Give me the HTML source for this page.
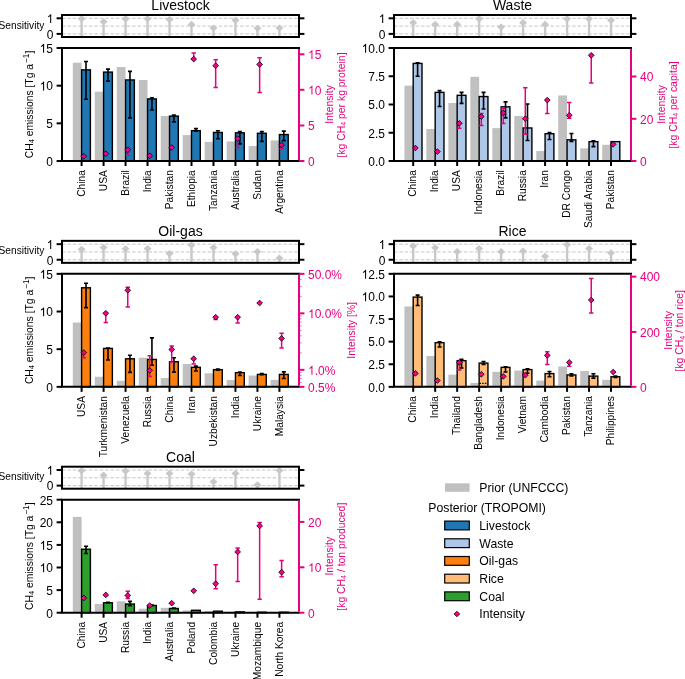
<!DOCTYPE html>
<html><head><meta charset="utf-8"><style>
html,body{margin:0;padding:0;background:#fff;}
svg{display:block;will-change:transform;}
text{font-family:"Liberation Sans",sans-serif;}
</style></head><body>
<svg width="685" height="679" viewBox="0 0 685 679">
<rect width="685" height="679" fill="#fff"/>
<text x="0" y="0" font-size="14" text-anchor="middle" fill="#000" transform="translate(180.5 10.2) scale(1 1.04)">Livestock</text>
<line x1="61.9" y1="18.3" x2="298" y2="18.3" stroke="#c6c6c6" stroke-width="1" stroke-dasharray="3.6 1.8"/>
<line x1="61.9" y1="26.1" x2="298" y2="26.1" stroke="#c6c6c6" stroke-width="1" stroke-dasharray="3.6 1.8"/>
<line x1="61.9" y1="33.9" x2="298" y2="33.9" stroke="#c6c6c6" stroke-width="1" stroke-dasharray="3.6 1.8"/>
<line x1="81.6" y1="37" x2="81.6" y2="18.8" stroke="#c8c8c8" stroke-width="2.4"/>
<path d="M81.6 15.2L85.6 18.8L81.6 22.4L77.6 18.8Z" fill="#c8c8c8"/>
<line x1="103.58" y1="37" x2="103.58" y2="21.76" stroke="#c8c8c8" stroke-width="2.4"/>
<path d="M103.58 18.16L107.58 21.76L103.58 25.36L99.58 21.76Z" fill="#c8c8c8"/>
<line x1="125.56" y1="37" x2="125.56" y2="18.8" stroke="#c8c8c8" stroke-width="2.4"/>
<path d="M125.56 15.2L129.56 18.8L125.56 22.4L121.56 18.8Z" fill="#c8c8c8"/>
<line x1="147.54" y1="37" x2="147.54" y2="18.8" stroke="#c8c8c8" stroke-width="2.4"/>
<path d="M147.54 15.2L151.54 18.8L147.54 22.4L143.54 18.8Z" fill="#c8c8c8"/>
<line x1="169.52" y1="37" x2="169.52" y2="19.58" stroke="#c8c8c8" stroke-width="2.4"/>
<path d="M169.52 15.98L173.52 19.58L169.52 23.18L165.52 19.58Z" fill="#c8c8c8"/>
<line x1="191.5" y1="37" x2="191.5" y2="24.42" stroke="#c8c8c8" stroke-width="2.4"/>
<path d="M191.5 20.82L195.5 24.42L191.5 28.02L187.5 24.42Z" fill="#c8c8c8"/>
<line x1="213.48" y1="37" x2="213.48" y2="28" stroke="#c8c8c8" stroke-width="2.4"/>
<path d="M213.48 24.4L217.48 28L213.48 31.6L209.48 28Z" fill="#c8c8c8"/>
<line x1="235.46" y1="37" x2="235.46" y2="20.36" stroke="#c8c8c8" stroke-width="2.4"/>
<path d="M235.46 16.76L239.46 20.36L235.46 23.96L231.46 20.36Z" fill="#c8c8c8"/>
<line x1="257.44" y1="37" x2="257.44" y2="28.32" stroke="#c8c8c8" stroke-width="2.4"/>
<path d="M257.44 24.72L261.44 28.32L257.44 31.92L253.44 28.32Z" fill="#c8c8c8"/>
<line x1="279.42" y1="37" x2="279.42" y2="28" stroke="#c8c8c8" stroke-width="2.4"/>
<path d="M279.42 24.4L283.42 28L279.42 31.6L275.42 28Z" fill="#c8c8c8"/>
<rect x="62" y="15" width="237" height="22" fill="none" stroke="#000" stroke-width="2"/>
<line x1="56.6" y1="18.3" x2="62" y2="18.3" stroke="#000" stroke-width="2"/>
<line x1="299" y1="18.3" x2="304.4" y2="18.3" stroke="#000" stroke-width="2"/>
<g fill="#000" transform="translate(46.73 23.1) scale(1 1.04)"><text x="0" y="0" font-size="12"> </text><path d="M763 0L583 0L583 1147Q518 1085 411.5 1022.5Q305 960 223 929L223 1103Q369 1172 481.5 1272Q594 1372 642 1466L763 1466Z" transform="translate(0 0) scale(0.00586 -0.00586)"/></g>
<line x1="56.6" y1="33.9" x2="62" y2="33.9" stroke="#000" stroke-width="2"/>
<line x1="299" y1="33.9" x2="304.4" y2="33.9" stroke="#000" stroke-width="2"/>
<text x="0" y="0" font-size="12" text-anchor="end" fill="#000" transform="translate(53.4 38.7) scale(1 1.04)">0</text>
<rect x="72.8" y="62.69" width="8.8" height="98.31" fill="#c0c0c0"/>
<rect x="94.78" y="91.69" width="8.8" height="69.31" fill="#c0c0c0"/>
<rect x="116.76" y="67.06" width="8.8" height="93.94" fill="#c0c0c0"/>
<rect x="138.74" y="80.02" width="8.8" height="80.98" fill="#c0c0c0"/>
<rect x="160.72" y="116.03" width="8.8" height="44.97" fill="#c0c0c0"/>
<rect x="182.7" y="135.09" width="8.8" height="25.91" fill="#c0c0c0"/>
<rect x="204.68" y="141.87" width="8.8" height="19.13" fill="#c0c0c0"/>
<rect x="226.66" y="141.41" width="8.8" height="19.59" fill="#c0c0c0"/>
<rect x="248.64" y="146.08" width="8.8" height="14.92" fill="#c0c0c0"/>
<rect x="270.62" y="140.43" width="8.8" height="20.57" fill="#c0c0c0"/>
<rect x="81.6" y="69.85" width="8.8" height="91.15" fill="#1f77b4" stroke="#000" stroke-width="1.4"/>
<rect x="103.58" y="72.11" width="8.8" height="88.89" fill="#1f77b4" stroke="#000" stroke-width="1.4"/>
<rect x="125.56" y="79.94" width="8.8" height="81.06" fill="#1f77b4" stroke="#000" stroke-width="1.4"/>
<rect x="147.54" y="98.92" width="8.8" height="62.08" fill="#1f77b4" stroke="#000" stroke-width="1.4"/>
<rect x="169.52" y="116.1" width="8.8" height="44.9" fill="#1f77b4" stroke="#000" stroke-width="1.4"/>
<rect x="191.5" y="130.71" width="8.8" height="30.29" fill="#1f77b4" stroke="#000" stroke-width="1.4"/>
<rect x="213.48" y="132.45" width="8.8" height="28.55" fill="#1f77b4" stroke="#000" stroke-width="1.4"/>
<rect x="235.46" y="132.82" width="8.8" height="28.18" fill="#1f77b4" stroke="#000" stroke-width="1.4"/>
<rect x="257.44" y="133.28" width="8.8" height="27.72" fill="#1f77b4" stroke="#000" stroke-width="1.4"/>
<rect x="279.42" y="134.56" width="8.8" height="26.44" fill="#1f77b4" stroke="#000" stroke-width="1.4"/>
<path d="M86 99.23V61.56M84 99.23h4M84 61.56h4" stroke="#000" stroke-width="1.6" fill="none"/>
<path d="M107.98 81.15V69.17M105.98 81.15h4M105.98 69.17h4" stroke="#000" stroke-width="1.6" fill="none"/>
<path d="M129.96 117.83V71.35M127.96 117.83h4M127.96 71.35h4" stroke="#000" stroke-width="1.6" fill="none"/>
<path d="M151.94 110V97.72M149.94 110h4M149.94 97.72h4" stroke="#000" stroke-width="1.6" fill="none"/>
<path d="M173.92 121.83V115.05M171.92 121.83h4M171.92 115.05h4" stroke="#000" stroke-width="1.6" fill="none"/>
<path d="M195.9 131.02V128.61M193.9 131.02h4M193.9 128.61h4" stroke="#000" stroke-width="1.6" fill="none"/>
<path d="M217.88 138.7V130.72M215.88 138.7h4M215.88 130.72h4" stroke="#000" stroke-width="1.6" fill="none"/>
<path d="M239.86 143.9V131.62M237.86 143.9h4M237.86 131.62h4" stroke="#000" stroke-width="1.6" fill="none"/>
<path d="M261.84 141.41V131.62M259.84 141.41h4M259.84 131.62h4" stroke="#000" stroke-width="1.6" fill="none"/>
<path d="M283.82 140.58V131.09M281.82 140.58h4M281.82 131.09h4" stroke="#000" stroke-width="1.6" fill="none"/>
<path d="M127.76 149.8V155.2M125.56 149.8h4.4M125.56 155.2h4.4" stroke="#e8007e" stroke-width="1.5" fill="none"/>
<path d="M193.7 53V59.1M191.5 53h4.4M191.5 59.1h4.4" stroke="#e8007e" stroke-width="1.5" fill="none"/>
<path d="M215.68 59.7V87.4M213.48 59.7h4.4M213.48 87.4h4.4" stroke="#e8007e" stroke-width="1.5" fill="none"/>
<path d="M237.66 138.7V147.5M235.46 138.7h4.4M235.46 147.5h4.4" stroke="#e8007e" stroke-width="1.5" fill="none"/>
<path d="M259.64 57.7V92.4M257.44 57.7h4.4M257.44 92.4h4.4" stroke="#e8007e" stroke-width="1.5" fill="none"/>
<path d="M281.62 144.9V148.8M279.42 144.9h4.4M279.42 148.8h4.4" stroke="#e8007e" stroke-width="1.5" fill="none"/>
<path d="M83.8 153.45L86.65 156.3L83.8 159.15L80.95 156.3Z" fill="#fa008a" stroke="#000" stroke-width="0.8"/>
<path d="M105.78 150.85L108.63 153.7L105.78 156.55L102.93 153.7Z" fill="#fa008a" stroke="#000" stroke-width="0.8"/>
<path d="M127.76 146.95L130.61 149.8L127.76 152.65L124.91 149.8Z" fill="#fa008a" stroke="#000" stroke-width="0.8"/>
<path d="M149.74 152.95L152.59 155.8L149.74 158.65L146.89 155.8Z" fill="#fa008a" stroke="#000" stroke-width="0.8"/>
<path d="M171.72 144.65L174.57 147.5L171.72 150.35L168.87 147.5Z" fill="#fa008a" stroke="#000" stroke-width="0.8"/>
<path d="M193.7 56.25L196.55 59.1L193.7 61.95L190.85 59.1Z" fill="#fa008a" stroke="#000" stroke-width="0.8"/>
<path d="M215.68 62.85L218.53 65.7L215.68 68.55L212.83 65.7Z" fill="#fa008a" stroke="#000" stroke-width="0.8"/>
<path d="M237.66 135.85L240.51 138.7L237.66 141.55L234.81 138.7Z" fill="#fa008a" stroke="#000" stroke-width="0.8"/>
<path d="M259.64 61.55L262.49 64.4L259.64 67.25L256.79 64.4Z" fill="#fa008a" stroke="#000" stroke-width="0.8"/>
<path d="M281.62 142.05L284.47 144.9L281.62 147.75L278.77 144.9Z" fill="#fa008a" stroke="#000" stroke-width="0.8"/>
<path d="M62 47V161H300 M61 48H300" stroke="#000" stroke-width="2" fill="none"/>
<line x1="299" y1="49" x2="299" y2="160" stroke="#e8007e" stroke-width="2"/>
<line x1="56.6" y1="161" x2="62" y2="161" stroke="#000" stroke-width="2"/>
<text x="0" y="0" font-size="12" text-anchor="end" fill="#000" transform="translate(53 165.8) scale(1 1.04)">0</text>
<line x1="56.6" y1="123.33" x2="62" y2="123.33" stroke="#000" stroke-width="2"/>
<text x="0" y="0" font-size="12" text-anchor="end" fill="#000" transform="translate(53 128.13) scale(1 1.04)">5</text>
<line x1="56.6" y1="85.67" x2="62" y2="85.67" stroke="#000" stroke-width="2"/>
<g fill="#000" transform="translate(39.65 90.47) scale(1 1.04)"><text x="0" y="0" font-size="12"> 0</text><path d="M763 0L583 0L583 1147Q518 1085 411.5 1022.5Q305 960 223 929L223 1103Q369 1172 481.5 1272Q594 1372 642 1466L763 1466Z" transform="translate(0 0) scale(0.00586 -0.00586)"/></g>
<line x1="56.6" y1="48" x2="62" y2="48" stroke="#000" stroke-width="2"/>
<g fill="#000" transform="translate(39.65 52.8) scale(1 1.04)"><text x="0" y="0" font-size="12"> 5</text><path d="M763 0L583 0L583 1147Q518 1085 411.5 1022.5Q305 960 223 929L223 1103Q369 1172 481.5 1272Q594 1372 642 1466L763 1466Z" transform="translate(0 0) scale(0.00586 -0.00586)"/></g>
<line x1="81.6" y1="161" x2="81.6" y2="166" stroke="#000" stroke-width="2"/>
<text x="0" y="0" font-size="10.2" text-anchor="end" fill="#000" transform="translate(84.7 170.2) rotate(-90) scale(1 1.04)">China</text>
<line x1="103.58" y1="161" x2="103.58" y2="166" stroke="#000" stroke-width="2"/>
<text x="0" y="0" font-size="10.2" text-anchor="end" fill="#000" transform="translate(106.68 170.2) rotate(-90) scale(1 1.04)">USA</text>
<line x1="125.56" y1="161" x2="125.56" y2="166" stroke="#000" stroke-width="2"/>
<text x="0" y="0" font-size="10.2" text-anchor="end" fill="#000" transform="translate(128.66 170.2) rotate(-90) scale(1 1.04)">Brazil</text>
<line x1="147.54" y1="161" x2="147.54" y2="166" stroke="#000" stroke-width="2"/>
<text x="0" y="0" font-size="10.2" text-anchor="end" fill="#000" transform="translate(150.64 170.2) rotate(-90) scale(1 1.04)">India</text>
<line x1="169.52" y1="161" x2="169.52" y2="166" stroke="#000" stroke-width="2"/>
<text x="0" y="0" font-size="10.2" text-anchor="end" fill="#000" transform="translate(172.62 170.2) rotate(-90) scale(1 1.04)">Pakistan</text>
<line x1="191.5" y1="161" x2="191.5" y2="166" stroke="#000" stroke-width="2"/>
<text x="0" y="0" font-size="10.2" text-anchor="end" fill="#000" transform="translate(194.6 170.2) rotate(-90) scale(1 1.04)">Ethiopia</text>
<line x1="213.48" y1="161" x2="213.48" y2="166" stroke="#000" stroke-width="2"/>
<text x="0" y="0" font-size="10.2" text-anchor="end" fill="#000" transform="translate(216.58 170.2) rotate(-90) scale(1 1.04)">Tanzania</text>
<line x1="235.46" y1="161" x2="235.46" y2="166" stroke="#000" stroke-width="2"/>
<text x="0" y="0" font-size="10.2" text-anchor="end" fill="#000" transform="translate(238.56 170.2) rotate(-90) scale(1 1.04)">Australia</text>
<line x1="257.44" y1="161" x2="257.44" y2="166" stroke="#000" stroke-width="2"/>
<text x="0" y="0" font-size="10.2" text-anchor="end" fill="#000" transform="translate(260.54 170.2) rotate(-90) scale(1 1.04)">Sudan</text>
<line x1="279.42" y1="161" x2="279.42" y2="166" stroke="#000" stroke-width="2"/>
<text x="0" y="0" font-size="10.2" text-anchor="end" fill="#000" transform="translate(282.52 170.2) rotate(-90) scale(1 1.04)">Argentina</text>
<line x1="299" y1="161" x2="304.4" y2="161" stroke="#e8007e" stroke-width="2"/>
<text x="0" y="0" font-size="12" text-anchor="start" fill="#e8007e" transform="translate(308 165.8) scale(1 1.04)">0</text>
<line x1="299" y1="125.5" x2="304.4" y2="125.5" stroke="#e8007e" stroke-width="2"/>
<text x="0" y="0" font-size="12" text-anchor="start" fill="#e8007e" transform="translate(308 130.3) scale(1 1.04)">5</text>
<line x1="299" y1="89.8" x2="304.4" y2="89.8" stroke="#e8007e" stroke-width="2"/>
<g fill="#e8007e" transform="translate(308 94.6) scale(1 1.04)"><text x="0" y="0" font-size="12"> 0</text><path d="M763 0L583 0L583 1147Q518 1085 411.5 1022.5Q305 960 223 929L223 1103Q369 1172 481.5 1272Q594 1372 642 1466L763 1466Z" transform="translate(0 0) scale(0.00586 -0.00586)"/></g>
<line x1="299" y1="54.3" x2="304.4" y2="54.3" stroke="#e8007e" stroke-width="2"/>
<g fill="#e8007e" transform="translate(308 59.1) scale(1 1.04)"><text x="0" y="0" font-size="12"> 5</text><path d="M763 0L583 0L583 1147Q518 1085 411.5 1022.5Q305 960 223 929L223 1103Q369 1172 481.5 1272Q594 1372 642 1466L763 1466Z" transform="translate(0 0) scale(0.00586 -0.00586)"/></g>
<text x="0" y="0" font-size="10.2" text-anchor="end" fill="#000" transform="translate(44.4 28.6) scale(1 1.04)">Sensitivity</text>
<text x="0" y="0" font-size="10.35" text-anchor="middle" transform="translate(33 104.5) rotate(-90) scale(1 1.04)">CH<tspan font-size="7.4" dy="1.2">4</tspan><tspan dy="-1.2"> emissions [Tg a</tspan><tspan font-size="8.4" dy="-4.2" dx="0.8">−1</tspan><tspan dy="4.2">]</tspan></text>
<text x="0" y="0" font-size="10.4" text-anchor="middle" fill="#e8007e" transform="translate(333.2 104.5) rotate(-90) scale(1 1.04)">Intensity</text>
<text x="0" y="0" font-size="10.4" text-anchor="middle" fill="#e8007e" transform="translate(344.6 105) rotate(-90) scale(1 1.04)">[kg CH<tspan font-size="7" dy="1.2">4</tspan><tspan dy="-1.2"> per kg protein]</tspan></text>
<text x="0" y="0" font-size="14" text-anchor="middle" fill="#000" transform="translate(512.5 10.2) scale(1 1.04)">Waste</text>
<line x1="393.9" y1="18.3" x2="630" y2="18.3" stroke="#c6c6c6" stroke-width="1" stroke-dasharray="3.6 1.8"/>
<line x1="393.9" y1="26.1" x2="630" y2="26.1" stroke="#c6c6c6" stroke-width="1" stroke-dasharray="3.6 1.8"/>
<line x1="393.9" y1="33.9" x2="630" y2="33.9" stroke="#c6c6c6" stroke-width="1" stroke-dasharray="3.6 1.8"/>
<line x1="413.2" y1="37" x2="413.2" y2="22.7" stroke="#c8c8c8" stroke-width="2.4"/>
<path d="M413.2 19.1L417.2 22.7L413.2 26.3L409.2 22.7Z" fill="#c8c8c8"/>
<line x1="435.18" y1="37" x2="435.18" y2="24.42" stroke="#c8c8c8" stroke-width="2.4"/>
<path d="M435.18 20.82L439.18 24.42L435.18 28.02L431.18 24.42Z" fill="#c8c8c8"/>
<line x1="457.16" y1="37" x2="457.16" y2="24.42" stroke="#c8c8c8" stroke-width="2.4"/>
<path d="M457.16 20.82L461.16 24.42L457.16 28.02L453.16 24.42Z" fill="#c8c8c8"/>
<line x1="479.14" y1="37" x2="479.14" y2="18.8" stroke="#c8c8c8" stroke-width="2.4"/>
<path d="M479.14 15.2L483.14 18.8L479.14 22.4L475.14 18.8Z" fill="#c8c8c8"/>
<line x1="501.12" y1="37" x2="501.12" y2="27.07" stroke="#c8c8c8" stroke-width="2.4"/>
<path d="M501.12 23.47L505.12 27.07L501.12 30.67L497.12 27.07Z" fill="#c8c8c8"/>
<line x1="523.1" y1="37" x2="523.1" y2="22.7" stroke="#c8c8c8" stroke-width="2.4"/>
<path d="M523.1 19.1L527.1 22.7L523.1 26.3L519.1 22.7Z" fill="#c8c8c8"/>
<line x1="545.08" y1="37" x2="545.08" y2="24.42" stroke="#c8c8c8" stroke-width="2.4"/>
<path d="M545.08 20.82L549.08 24.42L545.08 28.02L541.08 24.42Z" fill="#c8c8c8"/>
<line x1="567.06" y1="37" x2="567.06" y2="18.8" stroke="#c8c8c8" stroke-width="2.4"/>
<path d="M567.06 15.2L571.06 18.8L567.06 22.4L563.06 18.8Z" fill="#c8c8c8"/>
<line x1="589.04" y1="37" x2="589.04" y2="18.8" stroke="#c8c8c8" stroke-width="2.4"/>
<path d="M589.04 15.2L593.04 18.8L589.04 22.4L585.04 18.8Z" fill="#c8c8c8"/>
<line x1="611.02" y1="37" x2="611.02" y2="20.36" stroke="#c8c8c8" stroke-width="2.4"/>
<path d="M611.02 16.76L615.02 20.36L611.02 23.96L607.02 20.36Z" fill="#c8c8c8"/>
<rect x="394" y="15" width="237" height="22" fill="none" stroke="#000" stroke-width="2"/>
<line x1="388.6" y1="18.3" x2="394" y2="18.3" stroke="#000" stroke-width="2"/>
<line x1="631" y1="18.3" x2="636.4" y2="18.3" stroke="#000" stroke-width="2"/>
<g fill="#000" transform="translate(378.73 23.1) scale(1 1.04)"><text x="0" y="0" font-size="12"> </text><path d="M763 0L583 0L583 1147Q518 1085 411.5 1022.5Q305 960 223 929L223 1103Q369 1172 481.5 1272Q594 1372 642 1466L763 1466Z" transform="translate(0 0) scale(0.00586 -0.00586)"/></g>
<line x1="388.6" y1="33.9" x2="394" y2="33.9" stroke="#000" stroke-width="2"/>
<line x1="631" y1="33.9" x2="636.4" y2="33.9" stroke="#000" stroke-width="2"/>
<text x="0" y="0" font-size="12" text-anchor="end" fill="#000" transform="translate(385.4 38.7) scale(1 1.04)">0</text>
<rect x="404.4" y="85.63" width="8.8" height="75.37" fill="#c0c0c0"/>
<rect x="426.38" y="129.02" width="8.8" height="31.98" fill="#c0c0c0"/>
<rect x="448.36" y="103.03" width="8.8" height="57.97" fill="#c0c0c0"/>
<rect x="470.34" y="76.81" width="8.8" height="84.19" fill="#c0c0c0"/>
<rect x="492.32" y="128.12" width="8.8" height="32.88" fill="#c0c0c0"/>
<rect x="514.3" y="116.03" width="8.8" height="44.97" fill="#c0c0c0"/>
<rect x="536.28" y="151.06" width="8.8" height="9.94" fill="#c0c0c0"/>
<rect x="558.26" y="95.46" width="8.8" height="65.54" fill="#c0c0c0"/>
<rect x="580.24" y="148.34" width="8.8" height="12.66" fill="#c0c0c0"/>
<rect x="602.22" y="144.84" width="8.8" height="16.16" fill="#c0c0c0"/>
<rect x="413.2" y="63.44" width="8.8" height="97.56" fill="#aec7e8" stroke="#000" stroke-width="1.4"/>
<rect x="435.18" y="92.37" width="8.8" height="68.63" fill="#aec7e8" stroke="#000" stroke-width="1.4"/>
<rect x="457.16" y="95.31" width="8.8" height="65.69" fill="#aec7e8" stroke="#000" stroke-width="1.4"/>
<rect x="479.14" y="96.55" width="8.8" height="64.45" fill="#aec7e8" stroke="#000" stroke-width="1.4"/>
<rect x="501.12" y="106.83" width="8.8" height="54.17" fill="#aec7e8" stroke="#000" stroke-width="1.4"/>
<rect x="523.1" y="127.97" width="8.8" height="33.04" fill="#aec7e8" stroke="#000" stroke-width="1.4"/>
<rect x="545.08" y="133.73" width="8.8" height="27.27" fill="#aec7e8" stroke="#000" stroke-width="1.4"/>
<rect x="567.06" y="139.83" width="8.8" height="21.17" fill="#aec7e8" stroke="#000" stroke-width="1.4"/>
<rect x="589.04" y="141.64" width="8.8" height="19.36" fill="#aec7e8" stroke="#000" stroke-width="1.4"/>
<rect x="611.02" y="141.64" width="8.8" height="19.36" fill="#aec7e8" stroke="#000" stroke-width="1.4"/>
<path d="M417.6 76.25V62.69M415.6 76.25h4M415.6 62.69h4" stroke="#000" stroke-width="1.6" fill="none"/>
<path d="M439.58 106.53V90.6M437.58 106.53h4M437.58 90.6h4" stroke="#000" stroke-width="1.6" fill="none"/>
<path d="M461.56 103.37V92.41M459.56 103.37h4M459.56 92.41h4" stroke="#000" stroke-width="1.6" fill="none"/>
<path d="M483.54 109.02V92.41M481.54 109.02h4M481.54 92.41h4" stroke="#000" stroke-width="1.6" fill="none"/>
<path d="M505.52 117.83V101.9M503.52 117.83h4M503.52 101.9h4" stroke="#000" stroke-width="1.6" fill="none"/>
<path d="M527.5 140.43V103.94M525.5 140.43h4M525.5 103.94h4" stroke="#000" stroke-width="1.6" fill="none"/>
<path d="M549.48 139.53V132.52M547.48 139.53h4M547.48 132.52h4" stroke="#000" stroke-width="1.6" fill="none"/>
<path d="M571.46 141.34V133.43M569.46 141.34h4M569.46 133.43h4" stroke="#000" stroke-width="1.6" fill="none"/>
<path d="M593.44 146.65V140.77M591.44 146.65h4M591.44 140.77h4" stroke="#000" stroke-width="1.6" fill="none"/>
<path d="M459.36 123.3V128.2M457.16 123.3h4.4M457.16 128.2h4.4" stroke="#e8007e" stroke-width="1.5" fill="none"/>
<path d="M481.34 113.6V125.4M479.14 113.6h4.4M479.14 125.4h4.4" stroke="#e8007e" stroke-width="1.5" fill="none"/>
<path d="M503.32 108.6V123.6M501.12 108.6h4.4M501.12 123.6h4.4" stroke="#e8007e" stroke-width="1.5" fill="none"/>
<path d="M525.3 87.8V134.3M523.1 87.8h4.4M523.1 134.3h4.4" stroke="#e8007e" stroke-width="1.5" fill="none"/>
<path d="M547.28 100.1V113.6M545.08 100.1h4.4M545.08 113.6h4.4" stroke="#e8007e" stroke-width="1.5" fill="none"/>
<path d="M569.26 102.4V118.3M567.06 102.4h4.4M567.06 118.3h4.4" stroke="#e8007e" stroke-width="1.5" fill="none"/>
<path d="M591.24 55.3V83M589.04 55.3h4.4M589.04 83h4.4" stroke="#e8007e" stroke-width="1.5" fill="none"/>
<path d="M415.4 145.15L418.25 148L415.4 150.85L412.55 148Z" fill="#fa008a" stroke="#000" stroke-width="0.8"/>
<path d="M437.38 148.75L440.23 151.6L437.38 154.45L434.53 151.6Z" fill="#fa008a" stroke="#000" stroke-width="0.8"/>
<path d="M459.36 120.45L462.21 123.3L459.36 126.15L456.51 123.3Z" fill="#fa008a" stroke="#000" stroke-width="0.8"/>
<path d="M481.34 113.75L484.19 116.6L481.34 119.45L478.49 116.6Z" fill="#fa008a" stroke="#000" stroke-width="0.8"/>
<path d="M503.32 110.15L506.17 113L503.32 115.85L500.47 113Z" fill="#fa008a" stroke="#000" stroke-width="0.8"/>
<path d="M525.3 115.85L528.15 118.7L525.3 121.55L522.45 118.7Z" fill="#fa008a" stroke="#000" stroke-width="0.8"/>
<path d="M547.28 97.25L550.13 100.1L547.28 102.95L544.43 100.1Z" fill="#fa008a" stroke="#000" stroke-width="0.8"/>
<path d="M569.26 112.45L572.11 115.3L569.26 118.15L566.41 115.3Z" fill="#fa008a" stroke="#000" stroke-width="0.8"/>
<path d="M591.24 52.45L594.09 55.3L591.24 58.15L588.39 55.3Z" fill="#fa008a" stroke="#000" stroke-width="0.8"/>
<path d="M613.22 141.45L616.07 144.3L613.22 147.15L610.37 144.3Z" fill="#fa008a" stroke="#000" stroke-width="0.8"/>
<path d="M394 47V161H632 M393 48H632" stroke="#000" stroke-width="2" fill="none"/>
<line x1="631" y1="49" x2="631" y2="160" stroke="#e8007e" stroke-width="2"/>
<line x1="388.6" y1="161" x2="394" y2="161" stroke="#000" stroke-width="2"/>
<text x="0" y="0" font-size="12" text-anchor="end" fill="#000" transform="translate(385 165.8) scale(1 1.04)">0.0</text>
<line x1="388.6" y1="132.75" x2="394" y2="132.75" stroke="#000" stroke-width="2"/>
<text x="0" y="0" font-size="12" text-anchor="end" fill="#000" transform="translate(385 137.55) scale(1 1.04)">2.5</text>
<line x1="388.6" y1="104.5" x2="394" y2="104.5" stroke="#000" stroke-width="2"/>
<text x="0" y="0" font-size="12" text-anchor="end" fill="#000" transform="translate(385 109.3) scale(1 1.04)">5.0</text>
<line x1="388.6" y1="76.25" x2="394" y2="76.25" stroke="#000" stroke-width="2"/>
<text x="0" y="0" font-size="12" text-anchor="end" fill="#000" transform="translate(385 81.05) scale(1 1.04)">7.5</text>
<line x1="388.6" y1="48" x2="394" y2="48" stroke="#000" stroke-width="2"/>
<g fill="#000" transform="translate(361.64 52.8) scale(1 1.04)"><text x="0" y="0" font-size="12"> 0.0</text><path d="M763 0L583 0L583 1147Q518 1085 411.5 1022.5Q305 960 223 929L223 1103Q369 1172 481.5 1272Q594 1372 642 1466L763 1466Z" transform="translate(0 0) scale(0.00586 -0.00586)"/></g>
<line x1="413.2" y1="161" x2="413.2" y2="166" stroke="#000" stroke-width="2"/>
<text x="0" y="0" font-size="10.2" text-anchor="end" fill="#000" transform="translate(416.3 170.2) rotate(-90) scale(1 1.04)">China</text>
<line x1="435.18" y1="161" x2="435.18" y2="166" stroke="#000" stroke-width="2"/>
<text x="0" y="0" font-size="10.2" text-anchor="end" fill="#000" transform="translate(438.28 170.2) rotate(-90) scale(1 1.04)">India</text>
<line x1="457.16" y1="161" x2="457.16" y2="166" stroke="#000" stroke-width="2"/>
<text x="0" y="0" font-size="10.2" text-anchor="end" fill="#000" transform="translate(460.26 170.2) rotate(-90) scale(1 1.04)">USA</text>
<line x1="479.14" y1="161" x2="479.14" y2="166" stroke="#000" stroke-width="2"/>
<text x="0" y="0" font-size="10.2" text-anchor="end" fill="#000" transform="translate(482.24 170.2) rotate(-90) scale(1 1.04)">Indonesia</text>
<line x1="501.12" y1="161" x2="501.12" y2="166" stroke="#000" stroke-width="2"/>
<text x="0" y="0" font-size="10.2" text-anchor="end" fill="#000" transform="translate(504.22 170.2) rotate(-90) scale(1 1.04)">Brazil</text>
<line x1="523.1" y1="161" x2="523.1" y2="166" stroke="#000" stroke-width="2"/>
<text x="0" y="0" font-size="10.2" text-anchor="end" fill="#000" transform="translate(526.2 170.2) rotate(-90) scale(1 1.04)">Russia</text>
<line x1="545.08" y1="161" x2="545.08" y2="166" stroke="#000" stroke-width="2"/>
<text x="0" y="0" font-size="10.2" text-anchor="end" fill="#000" transform="translate(548.18 170.2) rotate(-90) scale(1 1.04)">Iran</text>
<line x1="567.06" y1="161" x2="567.06" y2="166" stroke="#000" stroke-width="2"/>
<text x="0" y="0" font-size="10.2" text-anchor="end" fill="#000" transform="translate(570.16 170.2) rotate(-90) scale(1 1.04)">DR Congo</text>
<line x1="589.04" y1="161" x2="589.04" y2="166" stroke="#000" stroke-width="2"/>
<text x="0" y="0" font-size="10.2" text-anchor="end" fill="#000" transform="translate(592.14 170.2) rotate(-90) scale(1 1.04)">Saudi Arabia</text>
<line x1="611.02" y1="161" x2="611.02" y2="166" stroke="#000" stroke-width="2"/>
<text x="0" y="0" font-size="10.2" text-anchor="end" fill="#000" transform="translate(614.12 170.2) rotate(-90) scale(1 1.04)">Pakistan</text>
<line x1="631" y1="161" x2="636.4" y2="161" stroke="#e8007e" stroke-width="2"/>
<text x="0" y="0" font-size="12" text-anchor="start" fill="#e8007e" transform="translate(640 165.8) scale(1 1.04)">0</text>
<line x1="631" y1="118.8" x2="636.4" y2="118.8" stroke="#e8007e" stroke-width="2"/>
<text x="0" y="0" font-size="12" text-anchor="start" fill="#e8007e" transform="translate(640 123.6) scale(1 1.04)">20</text>
<line x1="631" y1="76.5" x2="636.4" y2="76.5" stroke="#e8007e" stroke-width="2"/>
<text x="0" y="0" font-size="12" text-anchor="start" fill="#e8007e" transform="translate(640 81.3) scale(1 1.04)">40</text>
<text x="0" y="0" font-size="10.4" text-anchor="middle" fill="#e8007e" transform="translate(665.2 104.5) rotate(-90) scale(1 1.04)">Intensity</text>
<text x="0" y="0" font-size="10.4" text-anchor="middle" fill="#e8007e" transform="translate(676.6 105) rotate(-90) scale(1 1.04)">[kg CH<tspan font-size="7" dy="1.2">4</tspan><tspan dy="-1.2"> per capita]</tspan></text>
<text x="0" y="0" font-size="14" text-anchor="middle" fill="#000" transform="translate(180.5 236.05) scale(1 1.04)">Oil-gas</text>
<line x1="61.9" y1="244.15" x2="298" y2="244.15" stroke="#c6c6c6" stroke-width="1" stroke-dasharray="3.6 1.8"/>
<line x1="61.9" y1="251.95" x2="298" y2="251.95" stroke="#c6c6c6" stroke-width="1" stroke-dasharray="3.6 1.8"/>
<line x1="61.9" y1="259.75" x2="298" y2="259.75" stroke="#c6c6c6" stroke-width="1" stroke-dasharray="3.6 1.8"/>
<line x1="81.6" y1="262.85" x2="81.6" y2="249.33" stroke="#c8c8c8" stroke-width="2.4"/>
<path d="M81.6 245.73L85.6 249.33L81.6 252.93L77.6 249.33Z" fill="#c8c8c8"/>
<line x1="103.58" y1="262.85" x2="103.58" y2="247.61" stroke="#c8c8c8" stroke-width="2.4"/>
<path d="M103.58 244.01L107.58 247.61L103.58 251.21L99.58 247.61Z" fill="#c8c8c8"/>
<line x1="125.56" y1="262.85" x2="125.56" y2="248.86" stroke="#c8c8c8" stroke-width="2.4"/>
<path d="M125.56 245.26L129.56 248.86L125.56 252.46L121.56 248.86Z" fill="#c8c8c8"/>
<line x1="147.54" y1="262.85" x2="147.54" y2="248.55" stroke="#c8c8c8" stroke-width="2.4"/>
<path d="M147.54 244.95L151.54 248.55L147.54 252.15L143.54 248.55Z" fill="#c8c8c8"/>
<line x1="169.52" y1="262.85" x2="169.52" y2="253.54" stroke="#c8c8c8" stroke-width="2.4"/>
<path d="M169.52 249.94L173.52 253.54L169.52 257.14L165.52 253.54Z" fill="#c8c8c8"/>
<line x1="191.5" y1="262.85" x2="191.5" y2="245.12" stroke="#c8c8c8" stroke-width="2.4"/>
<path d="M191.5 241.52L195.5 245.12L191.5 248.72L187.5 245.12Z" fill="#c8c8c8"/>
<line x1="213.48" y1="262.85" x2="213.48" y2="247.61" stroke="#c8c8c8" stroke-width="2.4"/>
<path d="M213.48 244.01L217.48 247.61L213.48 251.21L209.48 247.61Z" fill="#c8c8c8"/>
<line x1="235.46" y1="262.85" x2="235.46" y2="253.85" stroke="#c8c8c8" stroke-width="2.4"/>
<path d="M235.46 250.25L239.46 253.85L235.46 257.45L231.46 253.85Z" fill="#c8c8c8"/>
<line x1="257.44" y1="262.85" x2="257.44" y2="251.67" stroke="#c8c8c8" stroke-width="2.4"/>
<path d="M257.44 248.07L261.44 251.67L257.44 255.27L253.44 251.67Z" fill="#c8c8c8"/>
<line x1="279.42" y1="262.85" x2="279.42" y2="258.22" stroke="#c8c8c8" stroke-width="2.4"/>
<path d="M279.42 254.62L283.42 258.22L279.42 261.82L275.42 258.22Z" fill="#c8c8c8"/>
<rect x="62" y="240.85" width="237" height="22" fill="none" stroke="#000" stroke-width="2"/>
<line x1="56.6" y1="244.15" x2="62" y2="244.15" stroke="#000" stroke-width="2"/>
<line x1="299" y1="244.15" x2="304.4" y2="244.15" stroke="#000" stroke-width="2"/>
<g fill="#000" transform="translate(46.73 248.95) scale(1 1.04)"><text x="0" y="0" font-size="12"> </text><path d="M763 0L583 0L583 1147Q518 1085 411.5 1022.5Q305 960 223 929L223 1103Q369 1172 481.5 1272Q594 1372 642 1466L763 1466Z" transform="translate(0 0) scale(0.00586 -0.00586)"/></g>
<line x1="56.6" y1="259.75" x2="62" y2="259.75" stroke="#000" stroke-width="2"/>
<line x1="299" y1="259.75" x2="304.4" y2="259.75" stroke="#000" stroke-width="2"/>
<text x="0" y="0" font-size="12" text-anchor="end" fill="#000" transform="translate(53.4 264.55) scale(1 1.04)">0</text>
<rect x="72.8" y="322.52" width="8.8" height="64.33" fill="#c0c0c0"/>
<rect x="94.78" y="376.76" width="8.8" height="10.09" fill="#c0c0c0"/>
<rect x="116.76" y="380.82" width="8.8" height="6.03" fill="#c0c0c0"/>
<rect x="138.74" y="357.7" width="8.8" height="29.15" fill="#c0c0c0"/>
<rect x="160.72" y="378.04" width="8.8" height="8.81" fill="#c0c0c0"/>
<rect x="182.7" y="364.02" width="8.8" height="22.83" fill="#c0c0c0"/>
<rect x="204.68" y="373.29" width="8.8" height="13.56" fill="#c0c0c0"/>
<rect x="226.66" y="379.92" width="8.8" height="6.93" fill="#c0c0c0"/>
<rect x="248.64" y="375.55" width="8.8" height="11.3" fill="#c0c0c0"/>
<rect x="270.62" y="379.84" width="8.8" height="7.01" fill="#c0c0c0"/>
<rect x="81.6" y="287.79" width="8.8" height="99.06" fill="#ff7f0e" stroke="#000" stroke-width="1.4"/>
<rect x="103.58" y="348.43" width="8.8" height="38.42" fill="#ff7f0e" stroke="#000" stroke-width="1.4"/>
<rect x="125.56" y="358.82" width="8.8" height="28.03" fill="#ff7f0e" stroke="#000" stroke-width="1.4"/>
<rect x="147.54" y="359.43" width="8.8" height="27.42" fill="#ff7f0e" stroke="#000" stroke-width="1.4"/>
<rect x="169.52" y="361.76" width="8.8" height="25.09" fill="#ff7f0e" stroke="#000" stroke-width="1.4"/>
<rect x="191.5" y="367.34" width="8.8" height="19.51" fill="#ff7f0e" stroke="#000" stroke-width="1.4"/>
<rect x="213.48" y="369.67" width="8.8" height="17.18" fill="#ff7f0e" stroke="#000" stroke-width="1.4"/>
<rect x="235.46" y="372.69" width="8.8" height="14.16" fill="#ff7f0e" stroke="#000" stroke-width="1.4"/>
<rect x="257.44" y="374.42" width="8.8" height="12.43" fill="#ff7f0e" stroke="#000" stroke-width="1.4"/>
<rect x="279.42" y="374.42" width="8.8" height="12.43" fill="#ff7f0e" stroke="#000" stroke-width="1.4"/>
<path d="M86 307.67V283.27M84 307.67h4M84 283.27h4" stroke="#000" stroke-width="1.6" fill="none"/>
<path d="M107.98 359.96V348.13M105.98 359.96h4M105.98 348.13h4" stroke="#000" stroke-width="1.6" fill="none"/>
<path d="M129.96 372.39V355.21M127.96 372.39h4M127.96 355.21h4" stroke="#000" stroke-width="1.6" fill="none"/>
<path d="M151.94 365.23V337.88M149.94 365.23h4M149.94 337.88h4" stroke="#000" stroke-width="1.6" fill="none"/>
<path d="M173.92 372.08V357.7M171.92 372.08h4M171.92 357.7h4" stroke="#000" stroke-width="1.6" fill="none"/>
<path d="M195.9 370.95V366.13M193.9 370.95h4M193.9 366.13h4" stroke="#000" stroke-width="1.6" fill="none"/>
<path d="M217.88 370.28V369.15M215.88 370.28h4M215.88 369.15h4" stroke="#000" stroke-width="1.6" fill="none"/>
<path d="M239.86 375.55V372.01M237.86 375.55h4M237.86 372.01h4" stroke="#000" stroke-width="1.6" fill="none"/>
<path d="M261.84 374.8V373.67M259.84 374.8h4M259.84 373.67h4" stroke="#000" stroke-width="1.6" fill="none"/>
<path d="M283.82 378.56V371.86M281.82 378.56h4M281.82 371.86h4" stroke="#000" stroke-width="1.6" fill="none"/>
<path d="M83.8 352.5V357.8M81.6 352.5h4.4M81.6 357.8h4.4" stroke="#e8007e" stroke-width="1.5" fill="none"/>
<path d="M105.78 313.3V322.5M103.58 313.3h4.4M103.58 322.5h4.4" stroke="#e8007e" stroke-width="1.5" fill="none"/>
<path d="M127.76 287.3V307.1M125.56 287.3h4.4M125.56 307.1h4.4" stroke="#e8007e" stroke-width="1.5" fill="none"/>
<path d="M149.74 355.7V376.4M147.54 355.7h4.4M147.54 376.4h4.4" stroke="#e8007e" stroke-width="1.5" fill="none"/>
<path d="M171.72 346V362.3M169.52 346h4.4M169.52 362.3h4.4" stroke="#e8007e" stroke-width="1.5" fill="none"/>
<path d="M193.7 358.7V364M191.5 358.7h4.4M191.5 364h4.4" stroke="#e8007e" stroke-width="1.5" fill="none"/>
<path d="M215.68 317.2V319.6M213.48 317.2h4.4M213.48 319.6h4.4" stroke="#e8007e" stroke-width="1.5" fill="none"/>
<path d="M237.66 317.2V323M235.46 317.2h4.4M235.46 323h4.4" stroke="#e8007e" stroke-width="1.5" fill="none"/>
<path d="M281.62 333.3V348.1M279.42 333.3h4.4M279.42 348.1h4.4" stroke="#e8007e" stroke-width="1.5" fill="none"/>
<path d="M83.8 349.65L86.65 352.5L83.8 355.35L80.95 352.5Z" fill="#fa008a" stroke="#000" stroke-width="0.8"/>
<path d="M105.78 310.45L108.63 313.3L105.78 316.15L102.93 313.3Z" fill="#fa008a" stroke="#000" stroke-width="0.8"/>
<path d="M127.76 287.45L130.61 290.3L127.76 293.15L124.91 290.3Z" fill="#fa008a" stroke="#000" stroke-width="0.8"/>
<path d="M149.74 367.55L152.59 370.4L149.74 373.25L146.89 370.4Z" fill="#fa008a" stroke="#000" stroke-width="0.8"/>
<path d="M171.72 346.65L174.57 349.5L171.72 352.35L168.87 349.5Z" fill="#fa008a" stroke="#000" stroke-width="0.8"/>
<path d="M193.7 355.85L196.55 358.7L193.7 361.55L190.85 358.7Z" fill="#fa008a" stroke="#000" stroke-width="0.8"/>
<path d="M215.68 314.35L218.53 317.2L215.68 320.05L212.83 317.2Z" fill="#fa008a" stroke="#000" stroke-width="0.8"/>
<path d="M237.66 314.35L240.51 317.2L237.66 320.05L234.81 317.2Z" fill="#fa008a" stroke="#000" stroke-width="0.8"/>
<path d="M259.64 300.15L262.49 303L259.64 305.85L256.79 303Z" fill="#fa008a" stroke="#000" stroke-width="0.8"/>
<path d="M281.62 335.55L284.47 338.4L281.62 341.25L278.77 338.4Z" fill="#fa008a" stroke="#000" stroke-width="0.8"/>
<path d="M62 272.85V386.85H300 M61 273.85H300" stroke="#000" stroke-width="2" fill="none"/>
<line x1="299" y1="274.85" x2="299" y2="385.85" stroke="#e8007e" stroke-width="2"/>
<line x1="56.6" y1="386.85" x2="62" y2="386.85" stroke="#000" stroke-width="2"/>
<text x="0" y="0" font-size="12" text-anchor="end" fill="#000" transform="translate(53 391.65) scale(1 1.04)">0</text>
<line x1="56.6" y1="349.18" x2="62" y2="349.18" stroke="#000" stroke-width="2"/>
<text x="0" y="0" font-size="12" text-anchor="end" fill="#000" transform="translate(53 353.98) scale(1 1.04)">5</text>
<line x1="56.6" y1="311.52" x2="62" y2="311.52" stroke="#000" stroke-width="2"/>
<g fill="#000" transform="translate(39.65 316.32) scale(1 1.04)"><text x="0" y="0" font-size="12"> 0</text><path d="M763 0L583 0L583 1147Q518 1085 411.5 1022.5Q305 960 223 929L223 1103Q369 1172 481.5 1272Q594 1372 642 1466L763 1466Z" transform="translate(0 0) scale(0.00586 -0.00586)"/></g>
<line x1="56.6" y1="273.85" x2="62" y2="273.85" stroke="#000" stroke-width="2"/>
<g fill="#000" transform="translate(39.65 278.65) scale(1 1.04)"><text x="0" y="0" font-size="12"> 5</text><path d="M763 0L583 0L583 1147Q518 1085 411.5 1022.5Q305 960 223 929L223 1103Q369 1172 481.5 1272Q594 1372 642 1466L763 1466Z" transform="translate(0 0) scale(0.00586 -0.00586)"/></g>
<line x1="81.6" y1="386.85" x2="81.6" y2="391.85" stroke="#000" stroke-width="2"/>
<text x="0" y="0" font-size="10.2" text-anchor="end" fill="#000" transform="translate(84.7 396.05) rotate(-90) scale(1 1.04)">USA</text>
<line x1="103.58" y1="386.85" x2="103.58" y2="391.85" stroke="#000" stroke-width="2"/>
<text x="0" y="0" font-size="10.2" text-anchor="end" fill="#000" transform="translate(106.68 396.05) rotate(-90) scale(1 1.04)">Turkmenistan</text>
<line x1="125.56" y1="386.85" x2="125.56" y2="391.85" stroke="#000" stroke-width="2"/>
<text x="0" y="0" font-size="10.2" text-anchor="end" fill="#000" transform="translate(128.66 396.05) rotate(-90) scale(1 1.04)">Venezuela</text>
<line x1="147.54" y1="386.85" x2="147.54" y2="391.85" stroke="#000" stroke-width="2"/>
<text x="0" y="0" font-size="10.2" text-anchor="end" fill="#000" transform="translate(150.64 396.05) rotate(-90) scale(1 1.04)">Russia</text>
<line x1="169.52" y1="386.85" x2="169.52" y2="391.85" stroke="#000" stroke-width="2"/>
<text x="0" y="0" font-size="10.2" text-anchor="end" fill="#000" transform="translate(172.62 396.05) rotate(-90) scale(1 1.04)">China</text>
<line x1="191.5" y1="386.85" x2="191.5" y2="391.85" stroke="#000" stroke-width="2"/>
<text x="0" y="0" font-size="10.2" text-anchor="end" fill="#000" transform="translate(194.6 396.05) rotate(-90) scale(1 1.04)">Iran</text>
<line x1="213.48" y1="386.85" x2="213.48" y2="391.85" stroke="#000" stroke-width="2"/>
<text x="0" y="0" font-size="10.2" text-anchor="end" fill="#000" transform="translate(216.58 396.05) rotate(-90) scale(1 1.04)">Uzbekistan</text>
<line x1="235.46" y1="386.85" x2="235.46" y2="391.85" stroke="#000" stroke-width="2"/>
<text x="0" y="0" font-size="10.2" text-anchor="end" fill="#000" transform="translate(238.56 396.05) rotate(-90) scale(1 1.04)">India</text>
<line x1="257.44" y1="386.85" x2="257.44" y2="391.85" stroke="#000" stroke-width="2"/>
<text x="0" y="0" font-size="10.2" text-anchor="end" fill="#000" transform="translate(260.54 396.05) rotate(-90) scale(1 1.04)">Ukraine</text>
<line x1="279.42" y1="386.85" x2="279.42" y2="391.85" stroke="#000" stroke-width="2"/>
<text x="0" y="0" font-size="10.2" text-anchor="end" fill="#000" transform="translate(282.52 396.05) rotate(-90) scale(1 1.04)">Malaysia</text>
<line x1="299" y1="382.38" x2="301.6" y2="382.38" stroke="#e8007e" stroke-width="0.6"/>
<line x1="299" y1="378.59" x2="301.6" y2="378.59" stroke="#e8007e" stroke-width="0.6"/>
<line x1="299" y1="375.32" x2="301.6" y2="375.32" stroke="#e8007e" stroke-width="0.6"/>
<line x1="299" y1="372.43" x2="301.6" y2="372.43" stroke="#e8007e" stroke-width="0.6"/>
<line x1="299" y1="352.83" x2="301.6" y2="352.83" stroke="#e8007e" stroke-width="0.6"/>
<line x1="299" y1="342.88" x2="301.6" y2="342.88" stroke="#e8007e" stroke-width="0.6"/>
<line x1="299" y1="335.83" x2="301.6" y2="335.83" stroke="#e8007e" stroke-width="0.6"/>
<line x1="299" y1="330.35" x2="301.6" y2="330.35" stroke="#e8007e" stroke-width="0.6"/>
<line x1="299" y1="325.88" x2="301.6" y2="325.88" stroke="#e8007e" stroke-width="0.6"/>
<line x1="299" y1="322.09" x2="301.6" y2="322.09" stroke="#e8007e" stroke-width="0.6"/>
<line x1="299" y1="318.82" x2="301.6" y2="318.82" stroke="#e8007e" stroke-width="0.6"/>
<line x1="299" y1="315.93" x2="301.6" y2="315.93" stroke="#e8007e" stroke-width="0.6"/>
<line x1="299" y1="296.33" x2="301.6" y2="296.33" stroke="#e8007e" stroke-width="0.6"/>
<line x1="299" y1="286.38" x2="301.6" y2="286.38" stroke="#e8007e" stroke-width="0.6"/>
<line x1="299" y1="279.33" x2="301.6" y2="279.33" stroke="#e8007e" stroke-width="0.6"/>
<line x1="299" y1="386.85" x2="304.4" y2="386.85" stroke="#e8007e" stroke-width="2"/>
<text x="0" y="0" font-size="12" text-anchor="start" fill="#e8007e" transform="translate(308 391.65) scale(1 1.04)">0.5%</text>
<line x1="299" y1="369.84" x2="304.4" y2="369.84" stroke="#e8007e" stroke-width="2"/>
<g fill="#e8007e" transform="translate(308 374.64) scale(1 1.04)"><text x="0" y="0" font-size="12"> .0%</text><path d="M763 0L583 0L583 1147Q518 1085 411.5 1022.5Q305 960 223 929L223 1103Q369 1172 481.5 1272Q594 1372 642 1466L763 1466Z" transform="translate(0 0) scale(0.00586 -0.00586)"/></g>
<line x1="299" y1="313.34" x2="304.4" y2="313.34" stroke="#e8007e" stroke-width="2"/>
<g fill="#e8007e" transform="translate(308 318.14) scale(1 1.04)"><text x="0" y="0" font-size="12"> 0.0%</text><path d="M763 0L583 0L583 1147Q518 1085 411.5 1022.5Q305 960 223 929L223 1103Q369 1172 481.5 1272Q594 1372 642 1466L763 1466Z" transform="translate(0 0) scale(0.00586 -0.00586)"/></g>
<line x1="299" y1="273.85" x2="304.4" y2="273.85" stroke="#e8007e" stroke-width="2"/>
<text x="0" y="0" font-size="12" text-anchor="start" fill="#e8007e" transform="translate(308 278.65) scale(1 1.04)">50.0%</text>
<text x="0" y="0" font-size="10.2" text-anchor="end" fill="#000" transform="translate(44.4 254.45) scale(1 1.04)">Sensitivity</text>
<text x="0" y="0" font-size="10.35" text-anchor="middle" transform="translate(33 330.35) rotate(-90) scale(1 1.04)">CH<tspan font-size="7.4" dy="1.2">4</tspan><tspan dy="-1.2"> emissions [Tg a</tspan><tspan font-size="8.4" dy="-4.2" dx="0.8">−1</tspan><tspan dy="4.2">]</tspan></text>
<text x="0" y="0" font-size="10.4" text-anchor="middle" fill="#e8007e" transform="translate(355.1 330.35) rotate(-90) scale(1 1.04)">Intensity [%]</text>
<text x="0" y="0" font-size="14" text-anchor="middle" fill="#000" transform="translate(512.5 236.05) scale(1 1.04)">Rice</text>
<line x1="393.9" y1="244.15" x2="630" y2="244.15" stroke="#c6c6c6" stroke-width="1" stroke-dasharray="3.6 1.8"/>
<line x1="393.9" y1="251.95" x2="630" y2="251.95" stroke="#c6c6c6" stroke-width="1" stroke-dasharray="3.6 1.8"/>
<line x1="393.9" y1="259.75" x2="630" y2="259.75" stroke="#c6c6c6" stroke-width="1" stroke-dasharray="3.6 1.8"/>
<line x1="413.2" y1="262.85" x2="413.2" y2="246.05" stroke="#c8c8c8" stroke-width="2.4"/>
<path d="M413.2 242.45L417.2 246.05L413.2 249.65L409.2 246.05Z" fill="#c8c8c8"/>
<line x1="435.18" y1="262.85" x2="435.18" y2="247.77" stroke="#c8c8c8" stroke-width="2.4"/>
<path d="M435.18 244.17L439.18 247.77L435.18 251.37L431.18 247.77Z" fill="#c8c8c8"/>
<line x1="457.16" y1="262.85" x2="457.16" y2="251.67" stroke="#c8c8c8" stroke-width="2.4"/>
<path d="M457.16 248.07L461.16 251.67L457.16 255.27L453.16 251.67Z" fill="#c8c8c8"/>
<line x1="479.14" y1="262.85" x2="479.14" y2="248.55" stroke="#c8c8c8" stroke-width="2.4"/>
<path d="M479.14 244.95L483.14 248.55L479.14 252.15L475.14 248.55Z" fill="#c8c8c8"/>
<line x1="501.12" y1="262.85" x2="501.12" y2="251.67" stroke="#c8c8c8" stroke-width="2.4"/>
<path d="M501.12 248.07L505.12 251.67L501.12 255.27L497.12 251.67Z" fill="#c8c8c8"/>
<line x1="523.1" y1="262.85" x2="523.1" y2="251.2" stroke="#c8c8c8" stroke-width="2.4"/>
<path d="M523.1 247.6L527.1 251.2L523.1 254.8L519.1 251.2Z" fill="#c8c8c8"/>
<line x1="545.08" y1="262.85" x2="545.08" y2="256.35" stroke="#c8c8c8" stroke-width="2.4"/>
<path d="M545.08 252.75L549.08 256.35L545.08 259.95L541.08 256.35Z" fill="#c8c8c8"/>
<line x1="567.06" y1="262.85" x2="567.06" y2="244.65" stroke="#c8c8c8" stroke-width="2.4"/>
<path d="M567.06 241.05L571.06 244.65L567.06 248.25L563.06 244.65Z" fill="#c8c8c8"/>
<line x1="589.04" y1="262.85" x2="589.04" y2="248.55" stroke="#c8c8c8" stroke-width="2.4"/>
<path d="M589.04 244.95L593.04 248.55L589.04 252.15L585.04 248.55Z" fill="#c8c8c8"/>
<line x1="611.02" y1="262.85" x2="611.02" y2="252.92" stroke="#c8c8c8" stroke-width="2.4"/>
<path d="M611.02 249.32L615.02 252.92L611.02 256.52L607.02 252.92Z" fill="#c8c8c8"/>
<rect x="394" y="240.85" width="237" height="22" fill="none" stroke="#000" stroke-width="2"/>
<line x1="388.6" y1="244.15" x2="394" y2="244.15" stroke="#000" stroke-width="2"/>
<line x1="631" y1="244.15" x2="636.4" y2="244.15" stroke="#000" stroke-width="2"/>
<g fill="#000" transform="translate(378.73 248.95) scale(1 1.04)"><text x="0" y="0" font-size="12"> </text><path d="M763 0L583 0L583 1147Q518 1085 411.5 1022.5Q305 960 223 929L223 1103Q369 1172 481.5 1272Q594 1372 642 1466L763 1466Z" transform="translate(0 0) scale(0.00586 -0.00586)"/></g>
<line x1="388.6" y1="259.75" x2="394" y2="259.75" stroke="#000" stroke-width="2"/>
<line x1="631" y1="259.75" x2="636.4" y2="259.75" stroke="#000" stroke-width="2"/>
<text x="0" y="0" font-size="12" text-anchor="end" fill="#000" transform="translate(385.4 264.55) scale(1 1.04)">0</text>
<rect x="404.4" y="306.48" width="8.8" height="80.37" fill="#c0c0c0"/>
<rect x="426.38" y="355.93" width="8.8" height="30.92" fill="#c0c0c0"/>
<rect x="448.36" y="374.65" width="8.8" height="12.2" fill="#c0c0c0"/>
<rect x="470.34" y="382.96" width="8.8" height="3.89" fill="#c0c0c0"/>
<rect x="492.32" y="371.84" width="8.8" height="15.01" fill="#c0c0c0"/>
<rect x="514.3" y="370.58" width="8.8" height="16.27" fill="#c0c0c0"/>
<rect x="536.28" y="380.61" width="8.8" height="6.24" fill="#c0c0c0"/>
<rect x="558.26" y="366.51" width="8.8" height="20.34" fill="#c0c0c0"/>
<rect x="580.24" y="370.94" width="8.8" height="15.91" fill="#c0c0c0"/>
<rect x="602.22" y="379.8" width="8.8" height="7.05" fill="#c0c0c0"/>
<rect x="413.2" y="297.11" width="8.8" height="89.74" fill="#ffbb78" stroke="#000" stroke-width="1.4"/>
<rect x="435.18" y="342.67" width="8.8" height="44.18" fill="#ffbb78" stroke="#000" stroke-width="1.4"/>
<rect x="457.16" y="360.66" width="8.8" height="26.19" fill="#ffbb78" stroke="#000" stroke-width="1.4"/>
<rect x="479.14" y="363.1" width="8.8" height="23.75" fill="#ffbb78" stroke="#000" stroke-width="1.4"/>
<rect x="501.12" y="367.35" width="8.8" height="19.5" fill="#ffbb78" stroke="#000" stroke-width="1.4"/>
<rect x="523.1" y="369.61" width="8.8" height="17.24" fill="#ffbb78" stroke="#000" stroke-width="1.4"/>
<rect x="545.08" y="373.59" width="8.8" height="13.26" fill="#ffbb78" stroke="#000" stroke-width="1.4"/>
<rect x="567.06" y="374.95" width="8.8" height="11.9" fill="#ffbb78" stroke="#000" stroke-width="1.4"/>
<rect x="589.04" y="376.12" width="8.8" height="10.73" fill="#ffbb78" stroke="#000" stroke-width="1.4"/>
<rect x="611.02" y="376.75" width="8.8" height="10.1" fill="#ffbb78" stroke="#000" stroke-width="1.4"/>
<path d="M417.6 305.49V295.09M415.6 305.49h4M415.6 295.09h4" stroke="#000" stroke-width="1.6" fill="none"/>
<path d="M439.58 347.07V341.92M437.58 347.07h4M437.58 341.92h4" stroke="#000" stroke-width="1.6" fill="none"/>
<path d="M461.56 367.96V359.19M459.56 367.96h4M459.56 359.19h4" stroke="#000" stroke-width="1.6" fill="none"/>
<path d="M483.54 364.52V361.54M481.54 364.52h4M481.54 361.54h4" stroke="#000" stroke-width="1.6" fill="none"/>
<path d="M505.52 372.02V366.78M503.52 372.02h4M503.52 366.78h4" stroke="#000" stroke-width="1.6" fill="none"/>
<path d="M527.5 373.29V368.77M525.5 373.29h4M525.5 368.77h4" stroke="#000" stroke-width="1.6" fill="none"/>
<path d="M549.48 376.73V371.48M547.48 376.73h4M547.48 371.48h4" stroke="#000" stroke-width="1.6" fill="none"/>
<path d="M571.46 376V373.74M569.46 376h4M569.46 373.74h4" stroke="#000" stroke-width="1.6" fill="none"/>
<path d="M593.44 378.08V373.74M591.44 378.08h4M591.44 373.74h4" stroke="#000" stroke-width="1.6" fill="none"/>
<path d="M615.42 377.36V376M613.42 377.36h4M613.42 376h4" stroke="#000" stroke-width="1.6" fill="none"/>
<line x1="479.44" y1="383.3" x2="487.14" y2="383.3" stroke="#000" stroke-width="1.3" stroke-dasharray="1.5 1.2"/>
<path d="M459.36 362.4V369.9M457.16 362.4h4.4M457.16 369.9h4.4" stroke="#e8007e" stroke-width="1.5" fill="none"/>
<path d="M547.28 351.7V364.6M545.08 351.7h4.4M545.08 364.6h4.4" stroke="#e8007e" stroke-width="1.5" fill="none"/>
<path d="M569.26 362.4V366.3M567.06 362.4h4.4M567.06 366.3h4.4" stroke="#e8007e" stroke-width="1.5" fill="none"/>
<path d="M591.24 278.5V312.9M589.04 278.5h4.4M589.04 312.9h4.4" stroke="#e8007e" stroke-width="1.5" fill="none"/>
<path d="M415.4 370.55L418.25 373.4L415.4 376.25L412.55 373.4Z" fill="#fa008a" stroke="#000" stroke-width="0.8"/>
<path d="M437.38 377.65L440.23 380.5L437.38 383.35L434.53 380.5Z" fill="#fa008a" stroke="#000" stroke-width="0.8"/>
<path d="M459.36 359.55L462.21 362.4L459.36 365.25L456.51 362.4Z" fill="#fa008a" stroke="#000" stroke-width="0.8"/>
<path d="M481.34 371.45L484.19 374.3L481.34 377.15L478.49 374.3Z" fill="#fa008a" stroke="#000" stroke-width="0.8"/>
<path d="M503.32 373.55L506.17 376.4L503.32 379.25L500.47 376.4Z" fill="#fa008a" stroke="#000" stroke-width="0.8"/>
<path d="M525.3 372.35L528.15 375.2L525.3 378.05L522.45 375.2Z" fill="#fa008a" stroke="#000" stroke-width="0.8"/>
<path d="M547.28 352.55L550.13 355.4L547.28 358.25L544.43 355.4Z" fill="#fa008a" stroke="#000" stroke-width="0.8"/>
<path d="M569.26 359.55L572.11 362.4L569.26 365.25L566.41 362.4Z" fill="#fa008a" stroke="#000" stroke-width="0.8"/>
<path d="M591.24 297.15L594.09 300L591.24 302.85L588.39 300Z" fill="#fa008a" stroke="#000" stroke-width="0.8"/>
<path d="M613.22 369.15L616.07 372L613.22 374.85L610.37 372Z" fill="#fa008a" stroke="#000" stroke-width="0.8"/>
<path d="M394 272.85V386.85H632 M393 273.85H632" stroke="#000" stroke-width="2" fill="none"/>
<line x1="631" y1="274.85" x2="631" y2="385.85" stroke="#e8007e" stroke-width="2"/>
<line x1="388.6" y1="386.85" x2="394" y2="386.85" stroke="#000" stroke-width="2"/>
<text x="0" y="0" font-size="12" text-anchor="end" fill="#000" transform="translate(385 391.65) scale(1 1.04)">0.0</text>
<line x1="388.6" y1="364.25" x2="394" y2="364.25" stroke="#000" stroke-width="2"/>
<text x="0" y="0" font-size="12" text-anchor="end" fill="#000" transform="translate(385 369.05) scale(1 1.04)">2.5</text>
<line x1="388.6" y1="341.65" x2="394" y2="341.65" stroke="#000" stroke-width="2"/>
<text x="0" y="0" font-size="12" text-anchor="end" fill="#000" transform="translate(385 346.45) scale(1 1.04)">5.0</text>
<line x1="388.6" y1="319.05" x2="394" y2="319.05" stroke="#000" stroke-width="2"/>
<text x="0" y="0" font-size="12" text-anchor="end" fill="#000" transform="translate(385 323.85) scale(1 1.04)">7.5</text>
<line x1="388.6" y1="296.45" x2="394" y2="296.45" stroke="#000" stroke-width="2"/>
<g fill="#000" transform="translate(361.64 301.25) scale(1 1.04)"><text x="0" y="0" font-size="12"> 0.0</text><path d="M763 0L583 0L583 1147Q518 1085 411.5 1022.5Q305 960 223 929L223 1103Q369 1172 481.5 1272Q594 1372 642 1466L763 1466Z" transform="translate(0 0) scale(0.00586 -0.00586)"/></g>
<line x1="388.6" y1="273.85" x2="394" y2="273.85" stroke="#000" stroke-width="2"/>
<g fill="#000" transform="translate(361.64 278.65) scale(1 1.04)"><text x="0" y="0" font-size="12"> 2.5</text><path d="M763 0L583 0L583 1147Q518 1085 411.5 1022.5Q305 960 223 929L223 1103Q369 1172 481.5 1272Q594 1372 642 1466L763 1466Z" transform="translate(0 0) scale(0.00586 -0.00586)"/></g>
<line x1="413.2" y1="386.85" x2="413.2" y2="391.85" stroke="#000" stroke-width="2"/>
<text x="0" y="0" font-size="10.2" text-anchor="end" fill="#000" transform="translate(416.3 396.05) rotate(-90) scale(1 1.04)">China</text>
<line x1="435.18" y1="386.85" x2="435.18" y2="391.85" stroke="#000" stroke-width="2"/>
<text x="0" y="0" font-size="10.2" text-anchor="end" fill="#000" transform="translate(438.28 396.05) rotate(-90) scale(1 1.04)">India</text>
<line x1="457.16" y1="386.85" x2="457.16" y2="391.85" stroke="#000" stroke-width="2"/>
<text x="0" y="0" font-size="10.2" text-anchor="end" fill="#000" transform="translate(460.26 396.05) rotate(-90) scale(1 1.04)">Thailand</text>
<line x1="479.14" y1="386.85" x2="479.14" y2="391.85" stroke="#000" stroke-width="2"/>
<text x="0" y="0" font-size="10.2" text-anchor="end" fill="#000" transform="translate(482.24 396.05) rotate(-90) scale(1 1.04)">Bangladesh</text>
<line x1="501.12" y1="386.85" x2="501.12" y2="391.85" stroke="#000" stroke-width="2"/>
<text x="0" y="0" font-size="10.2" text-anchor="end" fill="#000" transform="translate(504.22 396.05) rotate(-90) scale(1 1.04)">Indonesia</text>
<line x1="523.1" y1="386.85" x2="523.1" y2="391.85" stroke="#000" stroke-width="2"/>
<text x="0" y="0" font-size="10.2" text-anchor="end" fill="#000" transform="translate(526.2 396.05) rotate(-90) scale(1 1.04)">Vietnam</text>
<line x1="545.08" y1="386.85" x2="545.08" y2="391.85" stroke="#000" stroke-width="2"/>
<text x="0" y="0" font-size="10.2" text-anchor="end" fill="#000" transform="translate(548.18 396.05) rotate(-90) scale(1 1.04)">Cambodia</text>
<line x1="567.06" y1="386.85" x2="567.06" y2="391.85" stroke="#000" stroke-width="2"/>
<text x="0" y="0" font-size="10.2" text-anchor="end" fill="#000" transform="translate(570.16 396.05) rotate(-90) scale(1 1.04)">Pakistan</text>
<line x1="589.04" y1="386.85" x2="589.04" y2="391.85" stroke="#000" stroke-width="2"/>
<text x="0" y="0" font-size="10.2" text-anchor="end" fill="#000" transform="translate(592.14 396.05) rotate(-90) scale(1 1.04)">Tanzania</text>
<line x1="611.02" y1="386.85" x2="611.02" y2="391.85" stroke="#000" stroke-width="2"/>
<text x="0" y="0" font-size="10.2" text-anchor="end" fill="#000" transform="translate(614.12 396.05) rotate(-90) scale(1 1.04)">Philippines</text>
<line x1="631" y1="386.85" x2="636.4" y2="386.85" stroke="#e8007e" stroke-width="2"/>
<text x="0" y="0" font-size="12" text-anchor="start" fill="#e8007e" transform="translate(640 391.65) scale(1 1.04)">0</text>
<line x1="631" y1="331.95" x2="636.4" y2="331.95" stroke="#e8007e" stroke-width="2"/>
<text x="0" y="0" font-size="12" text-anchor="start" fill="#e8007e" transform="translate(640 336.75) scale(1 1.04)">200</text>
<line x1="631" y1="276.65" x2="636.4" y2="276.65" stroke="#e8007e" stroke-width="2"/>
<text x="0" y="0" font-size="12" text-anchor="start" fill="#e8007e" transform="translate(640 281.45) scale(1 1.04)">400</text>
<text x="0" y="0" font-size="10.4" text-anchor="middle" fill="#e8007e" transform="translate(671.9 330.35) rotate(-90) scale(1 1.04)">Intensity</text>
<text x="0" y="0" font-size="10.4" text-anchor="middle" fill="#e8007e" transform="translate(683.3 330.85) rotate(-90) scale(1 1.04)">[kg CH<tspan font-size="7" dy="1.2">4</tspan><tspan dy="-1.2"> / ton rice]</tspan></text>
<text x="0" y="0" font-size="14" text-anchor="middle" fill="#000" transform="translate(180.5 461.9) scale(1 1.04)">Coal</text>
<line x1="61.9" y1="470" x2="298" y2="470" stroke="#c6c6c6" stroke-width="1" stroke-dasharray="3.6 1.8"/>
<line x1="61.9" y1="477.8" x2="298" y2="477.8" stroke="#c6c6c6" stroke-width="1" stroke-dasharray="3.6 1.8"/>
<line x1="61.9" y1="485.6" x2="298" y2="485.6" stroke="#c6c6c6" stroke-width="1" stroke-dasharray="3.6 1.8"/>
<line x1="81.6" y1="488.7" x2="81.6" y2="470.66" stroke="#c8c8c8" stroke-width="2.4"/>
<path d="M81.6 467.06L85.6 470.66L81.6 474.26L77.6 470.66Z" fill="#c8c8c8"/>
<line x1="103.58" y1="488.7" x2="103.58" y2="475.18" stroke="#c8c8c8" stroke-width="2.4"/>
<path d="M103.58 471.58L107.58 475.18L103.58 478.78L99.58 475.18Z" fill="#c8c8c8"/>
<line x1="125.56" y1="488.7" x2="125.56" y2="471.12" stroke="#c8c8c8" stroke-width="2.4"/>
<path d="M125.56 467.52L129.56 471.12L125.56 474.72L121.56 471.12Z" fill="#c8c8c8"/>
<line x1="147.54" y1="488.7" x2="147.54" y2="473.46" stroke="#c8c8c8" stroke-width="2.4"/>
<path d="M147.54 469.86L151.54 473.46L147.54 477.06L143.54 473.46Z" fill="#c8c8c8"/>
<line x1="169.52" y1="488.7" x2="169.52" y2="473.46" stroke="#c8c8c8" stroke-width="2.4"/>
<path d="M169.52 469.86L173.52 473.46L169.52 477.06L165.52 473.46Z" fill="#c8c8c8"/>
<line x1="191.5" y1="488.7" x2="191.5" y2="474.09" stroke="#c8c8c8" stroke-width="2.4"/>
<path d="M191.5 470.49L195.5 474.09L191.5 477.69L187.5 474.09Z" fill="#c8c8c8"/>
<line x1="213.48" y1="488.7" x2="213.48" y2="481.73" stroke="#c8c8c8" stroke-width="2.4"/>
<path d="M213.48 478.13L217.48 481.73L213.48 485.33L209.48 481.73Z" fill="#c8c8c8"/>
<line x1="235.46" y1="488.7" x2="235.46" y2="473.46" stroke="#c8c8c8" stroke-width="2.4"/>
<path d="M235.46 469.86L239.46 473.46L235.46 477.06L231.46 473.46Z" fill="#c8c8c8"/>
<line x1="257.44" y1="488.7" x2="257.44" y2="484.85" stroke="#c8c8c8" stroke-width="2.4"/>
<path d="M257.44 481.25L261.44 484.85L257.44 488.45L253.44 484.85Z" fill="#c8c8c8"/>
<line x1="279.42" y1="488.7" x2="279.42" y2="470.5" stroke="#c8c8c8" stroke-width="2.4"/>
<path d="M279.42 466.9L283.42 470.5L279.42 474.1L275.42 470.5Z" fill="#c8c8c8"/>
<rect x="62" y="466.7" width="237" height="22" fill="none" stroke="#000" stroke-width="2"/>
<line x1="56.6" y1="470" x2="62" y2="470" stroke="#000" stroke-width="2"/>
<line x1="299" y1="470" x2="304.4" y2="470" stroke="#000" stroke-width="2"/>
<g fill="#000" transform="translate(46.73 474.8) scale(1 1.04)"><text x="0" y="0" font-size="12"> </text><path d="M763 0L583 0L583 1147Q518 1085 411.5 1022.5Q305 960 223 929L223 1103Q369 1172 481.5 1272Q594 1372 642 1466L763 1466Z" transform="translate(0 0) scale(0.00586 -0.00586)"/></g>
<line x1="56.6" y1="485.6" x2="62" y2="485.6" stroke="#000" stroke-width="2"/>
<line x1="299" y1="485.6" x2="304.4" y2="485.6" stroke="#000" stroke-width="2"/>
<text x="0" y="0" font-size="12" text-anchor="end" fill="#000" transform="translate(53.4 490.4) scale(1 1.04)">0</text>
<rect x="72.8" y="516.88" width="8.8" height="95.82" fill="#c0c0c0"/>
<rect x="94.78" y="603.89" width="8.8" height="8.81" fill="#c0c0c0"/>
<rect x="116.76" y="601.31" width="8.8" height="11.39" fill="#c0c0c0"/>
<rect x="138.74" y="608.72" width="8.8" height="3.98" fill="#c0c0c0"/>
<rect x="160.72" y="607.82" width="8.8" height="4.88" fill="#c0c0c0"/>
<rect x="182.7" y="610.44" width="8.8" height="2.26" fill="#c0c0c0"/>
<rect x="204.68" y="610.89" width="8.8" height="1.81" fill="#c0c0c0"/>
<rect x="226.66" y="611.8" width="8.8" height="0.9" fill="#c0c0c0"/>
<rect x="248.64" y="612.25" width="8.8" height="0.45" fill="#c0c0c0"/>
<rect x="270.62" y="612.25" width="8.8" height="0.45" fill="#c0c0c0"/>
<rect x="81.6" y="549.27" width="8.8" height="63.43" fill="#2ca02c" stroke="#000" stroke-width="1.4"/>
<rect x="103.58" y="602.78" width="8.8" height="9.92" fill="#2ca02c" stroke="#000" stroke-width="1.4"/>
<rect x="125.56" y="604.01" width="8.8" height="8.69" fill="#2ca02c" stroke="#000" stroke-width="1.4"/>
<rect x="147.54" y="605.5" width="8.8" height="7.2" fill="#2ca02c" stroke="#000" stroke-width="1.4"/>
<rect x="169.52" y="608.48" width="8.8" height="4.22" fill="#2ca02c" stroke="#000" stroke-width="1.4"/>
<rect x="191.5" y="610.29" width="8.8" height="2.41" fill="#2ca02c" stroke="#000" stroke-width="1.4"/>
<rect x="213.48" y="611.19" width="8.8" height="1.51" fill="#2ca02c" stroke="#000" stroke-width="1.4"/>
<rect x="235.46" y="611.87" width="8.8" height="0.83" fill="#2ca02c" stroke="#000" stroke-width="1.4"/>
<rect x="257.44" y="612.2" width="8.8" height="0.5" fill="#2ca02c" stroke="#000" stroke-width="1.4"/>
<rect x="279.42" y="612.2" width="8.8" height="0.5" fill="#2ca02c" stroke="#000" stroke-width="1.4"/>
<path d="M86 553.49V546.26M84 553.49h4M84 546.26h4" stroke="#000" stroke-width="1.6" fill="none"/>
<path d="M107.98 602.76V602.3M105.98 602.76h4M105.98 602.3h4" stroke="#000" stroke-width="1.6" fill="none"/>
<path d="M129.96 605.69V601.4M127.96 605.69h4M127.96 601.4h4" stroke="#000" stroke-width="1.6" fill="none"/>
<path d="M151.94 605.47V605.02M149.94 605.47h4M149.94 605.02h4" stroke="#000" stroke-width="1.6" fill="none"/>
<path d="M173.92 608.41V607.95M171.92 608.41h4M171.92 607.95h4" stroke="#000" stroke-width="1.6" fill="none"/>
<path d="M127.76 591.3V598.4M125.56 591.3h4.4M125.56 598.4h4.4" stroke="#e8007e" stroke-width="1.5" fill="none"/>
<path d="M215.68 564.8V588.7M213.48 564.8h4.4M213.48 588.7h4.4" stroke="#e8007e" stroke-width="1.5" fill="none"/>
<path d="M237.66 548V581.6M235.46 548h4.4M235.46 581.6h4.4" stroke="#e8007e" stroke-width="1.5" fill="none"/>
<path d="M259.64 522.4V599.3M257.44 522.4h4.4M257.44 599.3h4.4" stroke="#e8007e" stroke-width="1.5" fill="none"/>
<path d="M281.62 560.4V576.8M279.42 560.4h4.4M279.42 576.8h4.4" stroke="#e8007e" stroke-width="1.5" fill="none"/>
<path d="M83.8 595.15L86.65 598L83.8 600.85L80.95 598Z" fill="#fa008a" stroke="#000" stroke-width="0.8"/>
<path d="M105.78 592.05L108.63 594.9L105.78 597.75L102.93 594.9Z" fill="#fa008a" stroke="#000" stroke-width="0.8"/>
<path d="M127.76 592.55L130.61 595.4L127.76 598.25L124.91 595.4Z" fill="#fa008a" stroke="#000" stroke-width="0.8"/>
<path d="M149.74 602.65L152.59 605.5L149.74 608.35L146.89 605.5Z" fill="#fa008a" stroke="#000" stroke-width="0.8"/>
<path d="M171.72 600.35L174.57 603.2L171.72 606.05L168.87 603.2Z" fill="#fa008a" stroke="#000" stroke-width="0.8"/>
<path d="M193.7 587.95L196.55 590.8L193.7 593.65L190.85 590.8Z" fill="#fa008a" stroke="#000" stroke-width="0.8"/>
<path d="M215.68 580.85L218.53 583.7L215.68 586.55L212.83 583.7Z" fill="#fa008a" stroke="#000" stroke-width="0.8"/>
<path d="M237.66 549.05L240.51 551.9L237.66 554.75L234.81 551.9Z" fill="#fa008a" stroke="#000" stroke-width="0.8"/>
<path d="M259.64 523.05L262.49 525.9L259.64 528.75L256.79 525.9Z" fill="#fa008a" stroke="#000" stroke-width="0.8"/>
<path d="M281.62 569.35L284.47 572.2L281.62 575.05L278.77 572.2Z" fill="#fa008a" stroke="#000" stroke-width="0.8"/>
<path d="M62 498.7V612.7H300 M61 499.7H300" stroke="#000" stroke-width="2" fill="none"/>
<line x1="299" y1="500.7" x2="299" y2="611.7" stroke="#e8007e" stroke-width="2"/>
<line x1="56.6" y1="612.7" x2="62" y2="612.7" stroke="#000" stroke-width="2"/>
<text x="0" y="0" font-size="12" text-anchor="end" fill="#000" transform="translate(53 617.5) scale(1 1.04)">0</text>
<line x1="56.6" y1="590.1" x2="62" y2="590.1" stroke="#000" stroke-width="2"/>
<text x="0" y="0" font-size="12" text-anchor="end" fill="#000" transform="translate(53 594.9) scale(1 1.04)">5</text>
<line x1="56.6" y1="567.5" x2="62" y2="567.5" stroke="#000" stroke-width="2"/>
<g fill="#000" transform="translate(39.65 572.3) scale(1 1.04)"><text x="0" y="0" font-size="12"> 0</text><path d="M763 0L583 0L583 1147Q518 1085 411.5 1022.5Q305 960 223 929L223 1103Q369 1172 481.5 1272Q594 1372 642 1466L763 1466Z" transform="translate(0 0) scale(0.00586 -0.00586)"/></g>
<line x1="56.6" y1="544.9" x2="62" y2="544.9" stroke="#000" stroke-width="2"/>
<g fill="#000" transform="translate(39.65 549.7) scale(1 1.04)"><text x="0" y="0" font-size="12"> 5</text><path d="M763 0L583 0L583 1147Q518 1085 411.5 1022.5Q305 960 223 929L223 1103Q369 1172 481.5 1272Q594 1372 642 1466L763 1466Z" transform="translate(0 0) scale(0.00586 -0.00586)"/></g>
<line x1="56.6" y1="522.3" x2="62" y2="522.3" stroke="#000" stroke-width="2"/>
<text x="0" y="0" font-size="12" text-anchor="end" fill="#000" transform="translate(53 527.1) scale(1 1.04)">20</text>
<line x1="56.6" y1="499.7" x2="62" y2="499.7" stroke="#000" stroke-width="2"/>
<text x="0" y="0" font-size="12" text-anchor="end" fill="#000" transform="translate(53 504.5) scale(1 1.04)">25</text>
<line x1="81.6" y1="612.7" x2="81.6" y2="617.7" stroke="#000" stroke-width="2"/>
<text x="0" y="0" font-size="10.2" text-anchor="end" fill="#000" transform="translate(84.7 621.9) rotate(-90) scale(1 1.04)">China</text>
<line x1="103.58" y1="612.7" x2="103.58" y2="617.7" stroke="#000" stroke-width="2"/>
<text x="0" y="0" font-size="10.2" text-anchor="end" fill="#000" transform="translate(106.68 621.9) rotate(-90) scale(1 1.04)">USA</text>
<line x1="125.56" y1="612.7" x2="125.56" y2="617.7" stroke="#000" stroke-width="2"/>
<text x="0" y="0" font-size="10.2" text-anchor="end" fill="#000" transform="translate(128.66 621.9) rotate(-90) scale(1 1.04)">Russia</text>
<line x1="147.54" y1="612.7" x2="147.54" y2="617.7" stroke="#000" stroke-width="2"/>
<text x="0" y="0" font-size="10.2" text-anchor="end" fill="#000" transform="translate(150.64 621.9) rotate(-90) scale(1 1.04)">India</text>
<line x1="169.52" y1="612.7" x2="169.52" y2="617.7" stroke="#000" stroke-width="2"/>
<text x="0" y="0" font-size="10.2" text-anchor="end" fill="#000" transform="translate(172.62 621.9) rotate(-90) scale(1 1.04)">Australia</text>
<line x1="191.5" y1="612.7" x2="191.5" y2="617.7" stroke="#000" stroke-width="2"/>
<text x="0" y="0" font-size="10.2" text-anchor="end" fill="#000" transform="translate(194.6 621.9) rotate(-90) scale(1 1.04)">Poland</text>
<line x1="213.48" y1="612.7" x2="213.48" y2="617.7" stroke="#000" stroke-width="2"/>
<text x="0" y="0" font-size="10.2" text-anchor="end" fill="#000" transform="translate(216.58 621.9) rotate(-90) scale(1 1.04)">Colombia</text>
<line x1="235.46" y1="612.7" x2="235.46" y2="617.7" stroke="#000" stroke-width="2"/>
<text x="0" y="0" font-size="10.2" text-anchor="end" fill="#000" transform="translate(238.56 621.9) rotate(-90) scale(1 1.04)">Ukraine</text>
<line x1="257.44" y1="612.7" x2="257.44" y2="617.7" stroke="#000" stroke-width="2"/>
<text x="0" y="0" font-size="10.2" text-anchor="end" fill="#000" transform="translate(260.54 621.9) rotate(-90) scale(1 1.04)">Mozambique</text>
<line x1="279.42" y1="612.7" x2="279.42" y2="617.7" stroke="#000" stroke-width="2"/>
<text x="0" y="0" font-size="10.2" text-anchor="end" fill="#000" transform="translate(282.52 621.9) rotate(-90) scale(1 1.04)">North Korea</text>
<line x1="299" y1="612.7" x2="304.4" y2="612.7" stroke="#e8007e" stroke-width="2"/>
<text x="0" y="0" font-size="12" text-anchor="start" fill="#e8007e" transform="translate(308 617.5) scale(1 1.04)">0</text>
<line x1="299" y1="567.3" x2="304.4" y2="567.3" stroke="#e8007e" stroke-width="2"/>
<g fill="#e8007e" transform="translate(308 572.1) scale(1 1.04)"><text x="0" y="0" font-size="12"> 0</text><path d="M763 0L583 0L583 1147Q518 1085 411.5 1022.5Q305 960 223 929L223 1103Q369 1172 481.5 1272Q594 1372 642 1466L763 1466Z" transform="translate(0 0) scale(0.00586 -0.00586)"/></g>
<line x1="299" y1="521.9" x2="304.4" y2="521.9" stroke="#e8007e" stroke-width="2"/>
<text x="0" y="0" font-size="12" text-anchor="start" fill="#e8007e" transform="translate(308 526.7) scale(1 1.04)">20</text>
<text x="0" y="0" font-size="10.2" text-anchor="end" fill="#000" transform="translate(44.4 480.3) scale(1 1.04)">Sensitivity</text>
<text x="0" y="0" font-size="10.35" text-anchor="middle" transform="translate(33 556.2) rotate(-90) scale(1 1.04)">CH<tspan font-size="7.4" dy="1.2">4</tspan><tspan dy="-1.2"> emissions [Tg a</tspan><tspan font-size="8.4" dy="-4.2" dx="0.8">−1</tspan><tspan dy="4.2">]</tspan></text>
<text x="0" y="0" font-size="10.4" text-anchor="middle" fill="#e8007e" transform="translate(333.2 556.2) rotate(-90) scale(1 1.04)">Intensity</text>
<text x="0" y="0" font-size="10.4" text-anchor="middle" fill="#e8007e" transform="translate(344.6 556.7) rotate(-90) scale(1 1.04)">[kg CH<tspan font-size="7" dy="1.2">4</tspan><tspan dy="-1.2"> / ton produced]</tspan></text>
<rect x="445" y="483.3" width="24.6" height="8.5" fill="#c0c0c0"/>
<text x="0" y="0" font-size="12.25" text-anchor="start" fill="#000" transform="translate(479.3 492.1) scale(1 1.04)">Prior (UNFCCC)</text>
<text x="0" y="0" font-size="12.25" text-anchor="start" fill="#000" transform="translate(428.3 512) scale(1 1.04)">Posterior (TROPOMI)</text>
<rect x="444.7" y="521.1" width="24.6" height="8.8" fill="#1f77b4" stroke="#000" stroke-width="1.2"/>
<text x="0" y="0" font-size="12.25" text-anchor="start" fill="#000" transform="translate(479.3 529.8) scale(1 1.04)">Livestock</text>
<rect x="444.7" y="538.8" width="24.6" height="8.8" fill="#aec7e8" stroke="#000" stroke-width="1.2"/>
<text x="0" y="0" font-size="12.25" text-anchor="start" fill="#000" transform="translate(479.3 547.5) scale(1 1.04)">Waste</text>
<rect x="444.7" y="556.5" width="24.6" height="8.8" fill="#ff7f0e" stroke="#000" stroke-width="1.2"/>
<text x="0" y="0" font-size="12.25" text-anchor="start" fill="#000" transform="translate(479.3 565.2) scale(1 1.04)">Oil-gas</text>
<rect x="444.7" y="574.2" width="24.6" height="8.8" fill="#ffbb78" stroke="#000" stroke-width="1.2"/>
<text x="0" y="0" font-size="12.25" text-anchor="start" fill="#000" transform="translate(479.3 582.9) scale(1 1.04)">Rice</text>
<rect x="444.7" y="591.9" width="24.6" height="8.8" fill="#2ca02c" stroke="#000" stroke-width="1.2"/>
<text x="0" y="0" font-size="12.25" text-anchor="start" fill="#000" transform="translate(479.3 600.6) scale(1 1.04)">Coal</text>
<path d="M456.9 611.25L459.65 614L456.9 616.75L454.15 614Z" fill="#fa008a" stroke="#000" stroke-width="0.8"/>
<text x="0" y="0" font-size="12.25" text-anchor="start" fill="#000" transform="translate(479.3 618.3) scale(1 1.04)">Intensity</text>
</svg>
</body></html>
